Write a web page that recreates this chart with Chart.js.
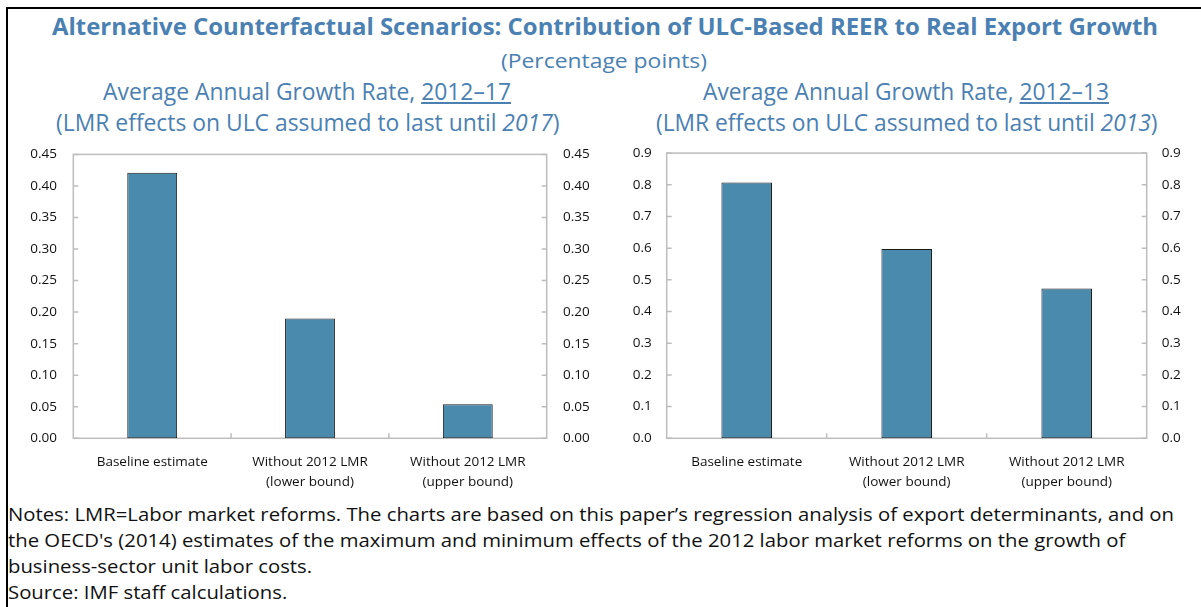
<!DOCTYPE html>
<html><head><meta charset="utf-8">
<script src="https://cdn.jsdelivr.net/npm/chart.js@4.4.1/dist/chart.umd.min.js"></script>
<style>
html,body{margin:0;padding:0;background:#fff;}
body{width:1201px;height:607px;position:relative;overflow:hidden;font-family:"Open Sans",sans-serif;}
.frame{position:absolute;left:6px;top:6.5px;width:1400px;height:800px;border-left:2px solid #000;border-top:2px solid #000;}
.t{position:absolute;white-space:nowrap;line-height:1;transform-origin:0 0;}
.blue{color:#4a80b2;}
.note{color:#111;}
canvas{position:absolute;}
</style></head><body>
<div class="frame"></div>
<div class="t blue" id="title" style="font-weight:700">Alternative Counterfactual Scenarios: Contribution of ULC-Based REER to Real Export Growth</div>
<div class="t blue" id="units">(Percentage points)</div>
<div class="t blue" id="l1">Average Annual Growth Rate, <u>2012–17</u></div>
<div class="t blue" id="l2">(LMR effects on ULC assumed to last until <i>2017</i>)</div>
<div class="t blue" id="r1">Average Annual Growth Rate, <u>2012–13</u></div>
<div class="t blue" id="r2">(LMR effects on ULC assumed to last until <i>2013</i>)</div>
<div class="t note" id="n1">Notes: LMR=Labor market reforms. The charts are based on this paper’s regression analysis of export determinants, and on</div>
<div class="t note" id="n2">the OECD's (2014) estimates of the maximum and minimum effects of the 2012 labor market reforms on the growth of</div>
<div class="t note" id="n3">business-sector unit labor costs.</div>
<div class="t note" id="n4">Source: IMF staff calculations.</div>
<canvas id="cL" width="600" height="370" style="left:0px;top:130px;width:600px;height:370px"></canvas>
<canvas id="cR" width="601" height="370" style="left:600px;top:130px;width:601px;height:370px"></canvas>
<script>
// ---- data ----
const categories = [['Baseline estimate'], ['Without 2012 LMR', '(lower bound)'], ['Without 2012 LMR', '(upper bound)']];
const values1217 = [0.421, 0.190, 0.054];
const values1213 = [0.807, 0.597, 0.473];
const tickValues1217 = [0, 0.05, 0.10, 0.15, 0.20, 0.25, 0.30, 0.35, 0.40, 0.45];
const tickLabels1217 = ['0.00', '0.05', '0.10', '0.15', '0.20', '0.25', '0.30', '0.35', '0.40', '0.45'];
const tickValues1213 = [0, 0.1, 0.2, 0.3, 0.4, 0.5, 0.6, 0.7, 0.8, 0.9];
const tickLabels1213 = ['0.0', '0.1', '0.2', '0.3', '0.4', '0.5', '0.6', '0.7', '0.8', '0.9'];

// ---- text placement ----
function place(id, left, width, baseline, size) {
  const el = document.getElementById(id);
  el.style.fontSize = size + 'px';
  el.style.top = (baseline - 0.888 * size) + 'px';
  el.style.left = left + 'px';
  const w = el.getBoundingClientRect().width;
  el.style.transform = 'scaleX(' + (width / w) + ')';
  return width / w;
}
place('title', 51.7, 1106, 35, 23);
place('units', 501, 206, 68, 20.5);
place('l1', 103, 408, 100, 23);
place('l2', 55.5, 503.5, 131, 23);
place('r1', 703, 406, 100, 23);
place('r2', 655.5, 501.5, 131, 23);
const ns = place('n1', 8, 1166, 521.5, 18.5);
['n2', 'n3', 'n4'].forEach((id, i) => {
  const el = document.getElementById(id);
  el.style.fontSize = '18.5px';
  el.style.top = ([547.5, 573.5, 599.5][i] - 0.888 * 18.5) + 'px';
  el.style.left = '8px';
  el.style.transform = 'scaleX(' + ns + ')';
});

// ---- charts ----
Chart.defaults.font.family = "'Open Sans', sans-serif";
const frame = {
  id: 'frame',
  beforeDatasetsDraw(chart) {
    const {ctx, chartArea: a, scales} = chart;
    ctx.save();
    ctx.strokeStyle = '#bdbdbd';
    ctx.lineWidth = 1.5;
    ctx.strokeRect(a.left, a.top, a.right - a.left, a.bottom - a.top);
    ctx.beginPath();
    scales.y.ticks.forEach(t => {
      const yy = scales.y.getPixelForValue(t.value);
      ctx.moveTo(a.left, yy); ctx.lineTo(a.left + 5, yy);
      ctx.moveTo(a.right, yy); ctx.lineTo(a.right - 5, yy);
    });
    const n = chart.data.labels.length;
    for (let i = 0; i < n - 1; i++) {
      const xx = (scales.x.getPixelForValue(i) + scales.x.getPixelForValue(i + 1)) / 2;
      ctx.moveTo(xx, a.bottom); ctx.lineTo(xx, a.bottom - 5);
    }
    ctx.stroke();
    ctx.restore();
  }
};

function yAxis(pos, tickVals, tickLabels, width, pad) {
  return {
    position: pos,
    min: tickVals[0], max: tickVals[tickVals.length - 1],
    grid: {display: false, drawTicks: false},
    border: {display: false},
    ticks: {
      padding: pad, color: '#111', font: {size: 13.5},
      callback: (v, i) => tickLabels[i]
    },
    afterBuildTicks: s => { s.ticks = tickVals.map(v => ({value: v})); },
    afterFit: s => { s.width = width; }
  };
}

function makeChart(id, values, tickVals, tickLabels, g) {
  return new Chart(document.getElementById(id), {
    type: 'bar',
    data: {
      labels: categories,
      datasets: [{
        data: values,
        backgroundColor: '#4a8aad',
        borderColor: '#1b1b1b',
        borderWidth: 1,
        borderSkipped: false,
        barPercentage: 0.316,
        categoryPercentage: 1
      }]
    },
    options: {
      responsive: false,
      animation: false,
      devicePixelRatio: 1,
      layout: {padding: {top: g.padTop, left: 0, right: 0, bottom: 0}},
      plugins: {legend: {display: false}, tooltip: {enabled: false}},
      scales: {
        x: {
          grid: {display: false, drawTicks: false},
          border: {display: false},
          ticks: {padding: 14.5, color: '#111', font: {size: 13.5, lineHeight: 1.45}, maxRotation: 0, autoSkip: false},
          afterFit: s => { s.height = g.xH; }
        },
        y: yAxis('left', tickVals, tickLabels, g.yL, g.pad),
        y2: yAxis('right', tickVals, tickLabels, g.yR, g.pad)
      }
    },
    plugins: [frame]
  });
}

makeChart('cL', values1217, tickValues1217, tickLabels1217, {padTop: 16.7, yL: 73.3, yR: 53.3, xH: 61.7, pad: 16.3});
makeChart('cR', values1213, tickValues1213, tickLabels1213, {padTop: 20.7, yL: 66.7, yR: 54.3, xH: 61.7, pad: 15});
</script>
</body></html>
